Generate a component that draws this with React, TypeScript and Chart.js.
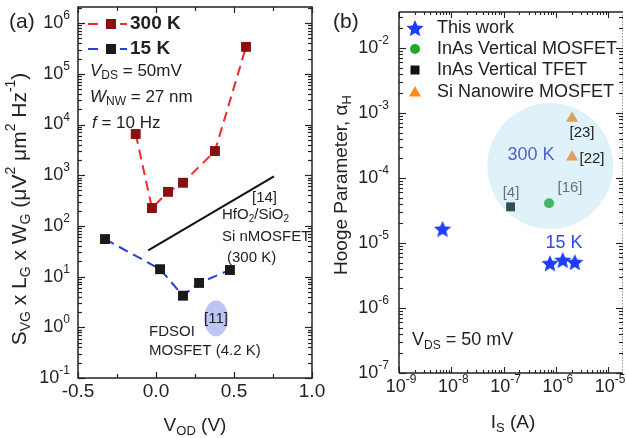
import React, { useEffect, useRef } from "react";
import { Chart, registerables } from "chart.js";

Chart.register(...registerables);

const FONT = '"Liberation Sans", Arial, Helvetica, sans-serif';

// ---------- Panel (a) data ----------
const vod300K = [-0.13, -0.026, 0.077, 0.173, 0.378, 0.577];
const svg300K = [6500, 225, 470, 710, 3000, 340000];
const vod15K = [-0.327, 0.026, 0.173, 0.276, 0.474];
const svg15K = [55, 14, 4.2, 7.5, 13.5];
const ref14Vod = [-0.05, 0.756];
const ref14Svg = [33, 950];
const ref11Vod = 0.385;
const ref11Svg = 1.5;
const aXTickValues = [-0.5, 0, 0.5, 1.0];
const aXTickLabels = ["-0.5", "0.0", "0.5", "1.0"];
const aYTickExponents = [-1, 0, 1, 2, 3, 4, 5, 6];
const aXMin = -0.5;
const aXMax = 1.0;
const aYMin = 0.1;
const aYMax = 2.08e6;

// ---------- Panel (b) data ----------
const thisWorkIs = [6.8e-9, 7.7e-7, 1.35e-6, 2.3e-6];
const thisWorkAlpha = [1.65e-5, 4.9e-6, 5.5e-6, 5.1e-6];
const inasMosfetIs = [7.4e-7];
const inasMosfetAlpha = [4.1e-5];
const inasTfetIs = [1.36e-7];
const inasTfetAlpha = [3.6e-5];
const siNwIs = [2.04e-6, 2.04e-6];
const siNwAlpha = [8.3e-4, 2.1e-4];
const bXTickExponents = [-9, -8, -7, -6, -5];
const bYTickExponents = [-7, -6, -5, -4, -3, -2];
const bLegendLabels = ["This work", "InAs Vertical MOSFET", "InAs Vertical TFET", "Si Nanowire MOSFET"];
const circle300KIs = 7.8e-7;
const circle300KAlpha = 1.53e-4;
const bXMin = 1e-9;
const bXMax = 1.92e-5;
const bYMin = 1e-7;
const bYMax = 0.0358;

// ---------- colours ----------
const RED_LINE = "#f02828";
const RED_PT = "#8a1010";
const BLUE_LINE = "#2a3fd8";
const BLACK_PT = "#1a1a1a";
const STAR = "#1f3dff";
const GREEN = "#22aa2a";
const ORANGE = "#ff8a1e";
const TXT = "#222";

type Seg = { t: string; sub?: boolean; sup?: boolean; it?: boolean; b?: boolean };

function segFont(size: number, s: Seg) {
  const sz = s.sub || s.sup ? Math.round(size * 0.68) : size;
  return `${s.it ? "italic " : ""}${s.b ? "bold " : ""}${sz}px ${FONT}`;
}
function richWidth(ctx: CanvasRenderingContext2D, segs: Seg[], size: number) {
  let w = 0;
  for (const s of segs) {
    ctx.font = segFont(size, s);
    w += ctx.measureText(s.t).width;
  }
  return w;
}
function drawRich(
  ctx: CanvasRenderingContext2D,
  segs: Seg[],
  x: number,
  y: number,
  size: number,
  color: string,
  align: "left" | "center" | "right" = "left",
  rot = 0
) {
  ctx.save();
  ctx.translate(x, y);
  if (rot) ctx.rotate(rot);
  const w = richWidth(ctx, segs, size);
  let cx = align === "left" ? 0 : align === "center" ? -w / 2 : -w;
  ctx.textBaseline = "middle";
  ctx.textAlign = "left";
  ctx.fillStyle = color;
  for (const s of segs) {
    ctx.font = segFont(size, s);
    const dy = s.sub ? size * 0.3 : s.sup ? -size * 0.4 : 0;
    ctx.fillText(s.t, cx, dy);
    cx += ctx.measureText(s.t).width;
  }
  ctx.restore();
}
const pow10 = (e: number): Seg[] => [{ t: "10" }, { t: String(e), sup: true }];

function line(ctx: CanvasRenderingContext2D, x1: number, y1: number, x2: number, y2: number) {
  ctx.beginPath();
  ctx.moveTo(x1, y1);
  ctx.lineTo(x2, y2);
  ctx.stroke();
}

function logTicks(
  ctx: CanvasRenderingContext2D,
  scale: any,
  A: any,
  axis: "x" | "y",
  lo: number,
  hi: number,
  majorLen: number,
  minorLen: number,
  sides: { a: boolean; b: boolean }
) {
  for (let d = Math.floor(Math.log10(lo)); d <= Math.ceil(Math.log10(hi)); d++) {
    for (let m = 1; m <= 9; m++) {
      const v = m * Math.pow(10, d);
      if (v < lo * 0.999 || v > hi * 1.001) continue;
      const p = Math.round(scale.getPixelForValue(v)) + 0.5;
      const len = m === 1 ? majorLen : minorLen;
      if (axis === "y") {
        if (sides.a) line(ctx, A.left, p, A.left + len, p);
        if (sides.b) line(ctx, A.right, p, A.right - len, p);
      } else {
        if (sides.a) line(ctx, p, A.bottom, p, A.bottom - len);
        if (sides.b) line(ctx, p, A.top, p, A.top + len);
      }
    }
  }
}

function makeStar(color: string, size: number) {
  const c = document.createElement("canvas");
  c.width = size;
  c.height = size;
  const g = c.getContext("2d")!;
  const R = size / 2;
  const r = R * 0.45;
  const cy = R + R * 0.1;
  g.beginPath();
  for (let i = 0; i < 10; i++) {
    const a = -Math.PI / 2 + (i * Math.PI) / 5;
    const rr = i % 2 ? r : R;
    g.lineTo(R + rr * Math.cos(a), cy + rr * Math.sin(a));
  }
  g.closePath();
  g.fillStyle = color;
  g.fill();
  return c;
}

const pluginA = {
  id: "panelA",
  beforeDatasetsDraw(chart: any) {
    const { ctx, scales } = chart;
    const { x, y } = scales;
    ctx.save();
    ctx.fillStyle = "#bcc5f6";
    ctx.beginPath();
    ctx.ellipse(x.getPixelForValue(ref11Vod), y.getPixelForValue(ref11Svg), 12, 18, 0, 0, Math.PI * 2);
    ctx.fill();
    ctx.restore();
  },
  afterDatasetsDraw(chart: any) {
    const { ctx, chartArea: A, scales } = chart;
    const { x, y } = scales;
    ctx.save();
    ctx.strokeStyle = "#222";
    ctx.lineWidth = 1.5;
    ctx.strokeRect(A.left, A.top, A.right - A.left, A.bottom - A.top);
    ctx.lineWidth = 1.2;
    for (let i = 0; i < aXTickValues.length; i++) {
      const p = Math.round(x.getPixelForValue(aXTickValues[i])) + 0.5;
      line(ctx, p, A.bottom, p, A.bottom - 6);
      line(ctx, p, A.top, p, A.top + 6);
      if (i < aXTickValues.length - 1) {
        const q = Math.round(x.getPixelForValue((aXTickValues[i] + aXTickValues[i + 1]) / 2)) + 0.5;
        line(ctx, q, A.bottom, q, A.bottom - 4);
        line(ctx, q, A.top, q, A.top + 4);
      }
    }
    logTicks(ctx, y, A, "y", aYMin, aYMax, 7, 4, { a: true, b: true });
    aXTickValues.forEach((v, i) => {
      drawRich(ctx, [{ t: aXTickLabels[i] }], x.getPixelForValue(v), 392, 19, TXT, "center");
    });
    aYTickExponents.forEach((e) => {
      drawRich(ctx, pow10(e), A.left - 8, y.getPixelForValue(Math.pow(10, e)), 18, TXT, "right");
    });
    drawRich(ctx, [{ t: "V" }, { t: "OD", sub: true }, { t: " (V)" }], (A.left + A.right) / 2, 426, 19, TXT, "center");
    drawRich(
      ctx,
      [
        { t: "S" }, { t: "VG", sub: true }, { t: " x L" }, { t: "G", sub: true }, { t: " x W" }, { t: "G", sub: true },
        { t: " (\u03bcV" }, { t: "2", sup: true }, { t: " \u03bcm" }, { t: "2", sup: true }, { t: " Hz" }, { t: "-1", sup: true }, { t: ")" },
      ],
      20, 209, 21, TXT, "center", -Math.PI / 2
    );
    drawRich(ctx, [{ t: "(a)" }], 9, 22, 21, TXT, "left");
    // legend
    ctx.lineWidth = 2;
    ctx.strokeStyle = RED_LINE;
    line(ctx, 88, 24, 98, 24);
    line(ctx, 120, 24, 127, 24);
    ctx.fillStyle = RED_PT;
    ctx.fillRect(111 - 5, 24 - 5, 10, 10);
    ctx.strokeStyle = BLUE_LINE;
    line(ctx, 88, 49, 98, 49);
    line(ctx, 120, 49, 127, 49);
    ctx.fillStyle = BLACK_PT;
    ctx.fillRect(111 - 5, 49 - 5, 10, 10);
    drawRich(ctx, [{ t: "300 K", b: true }], 130, 24, 19, TXT);
    drawRich(ctx, [{ t: "15 K", b: true }], 130, 49, 19, TXT);
    drawRich(ctx, [{ t: "V", it: true }, { t: "DS", sub: true }, { t: " = 50mV" }], 90, 71, 17, TXT);
    drawRich(ctx, [{ t: "W", it: true }, { t: "NW", sub: true }, { t: " = 27 nm" }], 90, 97, 17, TXT);
    drawRich(ctx, [{ t: "f", it: true }, { t: " = 10 Hz" }], 92, 123, 17, TXT);
    // annotations
    drawRich(ctx, [{ t: "[14]" }], 252, 198, 15, TXT);
    drawRich(ctx, [{ t: "HfO" }, { t: "2", sub: true }, { t: "/SiO" }, { t: "2", sub: true }], 222, 215, 15, TXT);
    drawRich(ctx, [{ t: "Si nMOSFET" }], 222, 237, 15, TXT);
    drawRich(ctx, [{ t: "(300 K)" }], 227, 258, 15, TXT);
    drawRich(ctx, [{ t: "[11]" }], 204, 319, 15, TXT);
    drawRich(ctx, [{ t: "FDSOI" }], 149, 332, 15, TXT);
    drawRich(ctx, [{ t: "MOSFET (4.2 K)" }], 149, 351, 15, TXT);
    ctx.restore();
  },
};

function makePluginB(star: HTMLCanvasElement) {
  return {
    id: "panelB",
    afterDatasetsDraw(chart: any) {
      const { ctx, chartArea: A, scales } = chart;
      const { x, y } = scales;
      ctx.save();
      ctx.fillStyle = "rgba(148,212,238,0.3)";
      ctx.beginPath();
      ctx.arc(x.getPixelForValue(circle300KIs), y.getPixelForValue(circle300KAlpha), 63, 0, Math.PI * 2);
      ctx.fill();
      ctx.strokeStyle = "#222";
      ctx.lineWidth = 1.5;
      line(ctx, A.left, A.top, A.left, A.bottom);
      line(ctx, A.left, A.bottom, A.right, A.bottom);
      line(ctx, A.left, A.top, A.right, A.top);
      ctx.save();
      ctx.strokeStyle = "#999";
      ctx.lineWidth = 1;
      ctx.setLineDash([1.5, 1.5]);
      line(ctx, A.right - 0.5, A.top, A.right - 0.5, A.bottom);
      ctx.restore();
      ctx.lineWidth = 1.1;
      logTicks(ctx, x, A, "x", bXMin, bXMax, 6, 3, { a: true, b: true });
      logTicks(ctx, y, A, "y", bYMin, bYMax, 7, 4, { a: true, b: true });
      bXTickExponents.forEach((e) => {
        drawRich(ctx, pow10(e), x.getPixelForValue(Math.pow(10, e)) + 2, 387, 18, TXT, "center");
      });
      bYTickExponents.forEach((e) => {
        drawRich(ctx, pow10(e), A.left - 10, y.getPixelForValue(Math.pow(10, e)), 18, TXT, "right");
      });
      drawRich(ctx, [{ t: "I" }, { t: "S", sub: true }, { t: " (A)" }], 513, 423, 19, TXT, "center");
      drawRich(ctx, [{ t: "Hooge Parameter, \u03b1" }, { t: "H", sub: true }], 342, 185, 19, TXT, "center", -Math.PI / 2);
      drawRich(ctx, [{ t: "(b)" }], 333, 22, 21, TXT, "left");
      const lx = 415;
      const rows = [28, 49, 70, 92];
      ctx.drawImage(star, lx - star.width / 2, rows[0] - star.height / 2);
      ctx.fillStyle = GREEN;
      ctx.beginPath();
      ctx.arc(lx, rows[1], 5, 0, Math.PI * 2);
      ctx.fill();
      ctx.fillStyle = "#111";
      ctx.fillRect(lx - 4.5, rows[2] - 4.5, 9, 9);
      ctx.fillStyle = ORANGE;
      ctx.beginPath();
      const tr = 7;
      for (let k = 0; k < 3; k++) {
        const a = -Math.PI / 2 + (k * 2 * Math.PI) / 3;
        ctx.lineTo(lx + tr * Math.cos(a), rows[3] + 1 + tr * Math.sin(a));
      }
      ctx.closePath();
      ctx.fill();
      bLegendLabels.forEach((lab, i) => drawRich(ctx, [{ t: lab }], 437, rows[i], 18, TXT));
      drawRich(ctx, [{ t: "300 K" }], 531, 155, 18, "#4f5fd6", "center");
      drawRich(ctx, [{ t: "15 K" }], 564, 243, 18, "#2f48f0", "center");
      drawRich(ctx, [{ t: "[23]" }], 582, 133, 15, TXT, "center");
      drawRich(ctx, [{ t: "[22]" }], 592, 159, 15, TXT, "center");
      drawRich(ctx, [{ t: "[4]" }], 511, 193, 15, "#6a7078", "center");
      drawRich(ctx, [{ t: "[16]" }], 570, 188, 15, "#6a7078", "center");
      drawRich(ctx, [{ t: "V" }, { t: "DS", sub: true }, { t: " = 50 mV" }], 412, 340, 18, TXT);
      ctx.restore();
    },
  };
}

export default function App() {
  const refA = useRef<HTMLCanvasElement>(null);
  const refB = useRef<HTMLCanvasElement>(null);

  useEffect(() => {
    const star = makeStar(STAR, 18);
    const common = {
      responsive: false,
      animation: false as const,
      events: [] as any[],
    };
    const chartA = new Chart(refA.current!, {
      type: "line",
      data: {
        datasets: [
          {
            label: "300 K",
            data: vod300K.map((v, i) => ({ x: v, y: svg300K[i] })),
            borderColor: RED_LINE,
            borderWidth: 2,
            borderDash: [10, 6],
            pointStyle: "rect",
            pointRadius: 7,
            pointBackgroundColor: RED_PT,
            pointBorderColor: RED_PT,
            pointBorderWidth: 0,
          },
          {
            label: "15 K",
            data: vod15K.map((v, i) => ({ x: v, y: svg15K[i] })),
            borderColor: BLUE_LINE,
            borderWidth: 2,
            borderDash: [10, 6],
            pointStyle: "rect",
            pointRadius: 7,
            pointBackgroundColor: BLACK_PT,
            pointBorderColor: BLACK_PT,
            pointBorderWidth: 0,
          },
          {
            label: "[14]",
            data: ref14Vod.map((v, i) => ({ x: v, y: ref14Svg[i] })),
            borderColor: "#111",
            borderWidth: 2,
            pointRadius: 0,
          },
        ],
      },
      options: {
        ...common,
        layout: { autoPadding: false, padding: { left: 78, right: 314, top: 7, bottom: 60 } },
        plugins: { legend: { display: false }, tooltip: { enabled: false } },
        scales: {
          x: { type: "linear", min: aXMin, max: aXMax, display: false },
          y: { type: "logarithmic", min: aYMin, max: aYMax, display: false },
        },
      } as any,
      plugins: [pluginA],
    });

    const chartB = new Chart(refB.current!, {
      type: "scatter",
      data: {
        datasets: [
          {
            label: bLegendLabels[0],
            data: thisWorkIs.map((v, i) => ({ x: v, y: thisWorkAlpha[i] })),
            pointStyle: star as any,
            pointRadius: 8,
          },
          {
            label: bLegendLabels[1],
            data: inasMosfetIs.map((v, i) => ({ x: v, y: inasMosfetAlpha[i] })),
            pointStyle: "circle",
            pointRadius: 5,
            pointBackgroundColor: GREEN,
            pointBorderWidth: 0,
          },
          {
            label: bLegendLabels[2],
            data: inasTfetIs.map((v, i) => ({ x: v, y: inasTfetAlpha[i] })),
            pointStyle: "rect",
            pointRadius: 6.3,
            pointBackgroundColor: "#111",
            pointBorderWidth: 0,
          },
          {
            label: bLegendLabels[3],
            data: siNwIs.map((v, i) => ({ x: v, y: siNwAlpha[i] })),
            pointStyle: "triangle",
            pointRadius: 7,
            pointBackgroundColor: ORANGE,
            pointBorderWidth: 0,
          },
        ],
      },
      options: {
        ...common,
        layout: { autoPadding: false, padding: { left: 399, right: 3, top: 12, bottom: 65 } },
        plugins: { legend: { display: false }, tooltip: { enabled: false } },
        scales: {
          x: { type: "logarithmic", min: bXMin, max: bXMax, display: false },
          y: { type: "logarithmic", min: bYMin, max: bYMax, display: false },
        },
      } as any,
      plugins: [makePluginB(star)],
    });

    return () => {
      chartA.destroy();
      chartB.destroy();
    };
  }, []);

  return (
    <div style={{ position: "fixed", left: 0, top: 0, width: 626, height: 438, background: "#fff" }}>
      <canvas ref={refA} width={626} height={438} style={{ position: "absolute", left: 0, top: 0 }} />
      <canvas ref={refB} width={626} height={438} style={{ position: "absolute", left: 0, top: 0 }} />
    </div>
  );
}
